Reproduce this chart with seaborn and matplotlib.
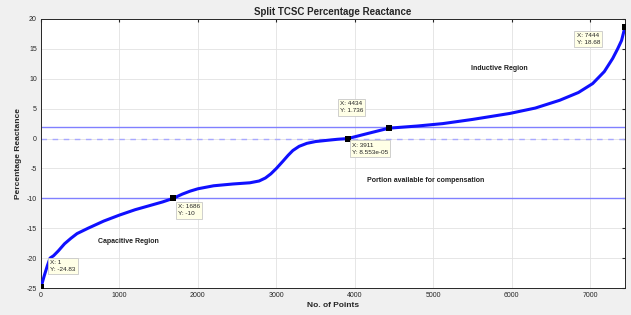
import matplotlib
matplotlib.use("Agg")
import matplotlib.pyplot as plt
import seaborn as sns
import pandas as pd

# ---- data ----
x_points = [1, 40, 80, 115, 160, 220, 300, 380, 459, 600, 800, 1000, 1200,
            1389, 1550, 1686, 1800, 1900, 2000, 2200, 2446, 2662, 2780, 2860,
            2930, 3000, 3083, 3150, 3210, 3290, 3389, 3500, 3643, 3780, 3911,
            4150, 4434, 4800, 5121, 5500, 5975, 6300, 6611, 6850, 7032, 7180,
            7287, 7350, 7400, 7444]
y_points = [-24.83, -23.0, -21.3, -20.0, -19.6, -18.8, -17.6, -16.7, -15.9,
            -15.0, -13.8, -12.8, -11.9, -11.2, -10.6, -10.0, -9.3, -8.8, -8.4,
            -7.9, -7.6, -7.4, -7.1, -6.6, -5.9, -5.0, -3.8, -2.8, -2.0, -1.3,
            -0.8, -0.5, -0.3, -0.12, 0.0000855, 0.8, 1.736, 2.1, 2.5, 3.2,
            4.2, 5.1, 6.4, 7.7, 9.2, 11.2, 13.4, 15.0, 16.4, 18.68]

tip_x = [1, 1686, 3911, 4434, 7444]
tip_y = [-24.83, -10, 8.553e-05, 1.736, 18.68]
tip_text = ["X: 1\nY: -24.83", "X: 1686\nY: -10", "X: 3911\nY: 8.553e-05",
            "X: 4434\nY: 1.736", "X: 7444\nY: 18.68"]
tip_box_x = [115, 1745, 3962, 3809, 6828]
tip_box_y = [-20.3, -11.0, -0.67, 6.2, 17.7]

limit_lines = [2, -10]
zero_line = 0

region_labels = ["Inductive Region", "Portion available for compensation", "Capacitive Region"]
region_x = [5847, 4904, 1108]
region_y = [11.8, -7.0, -17.2]

x_ticks = [0, 1000, 2000, 3000, 4000, 5000, 6000, 7000]
y_ticks = [-25, -20, -15, -10, -5, 0, 5, 10, 15, 20]

title = "Split TCSC Percentage Reactance"
xlabel = "No. of Points"
ylabel = "Percentage Reactance"

# ---- plot ----
sns.set_style("whitegrid")
plt.rcParams['font.family'] = ['Liberation Sans', 'DejaVu Sans']

fig = plt.figure(figsize=(6.31, 3.15), dpi=100)
fig.patch.set_facecolor('#f0f0f0')
ax = fig.add_axes([0.065, 0.0857, 0.9255, 0.854])
ax.set_facecolor('white')

df = pd.DataFrame({"x": x_points, "y": y_points})
sns.lineplot(data=df, x="x", y="y", ax=ax, color='#1010ff', linewidth=2.2,
             estimator=None, sort=False, zorder=3)

for v in limit_lines:
    ax.axhline(v, color='#8080ff', linewidth=1.0, zorder=2)
ax.axhline(zero_line, color='#a8a8ff', linewidth=1.0, linestyle=(0, (4, 4)), zorder=2)

tips = pd.DataFrame({"x": tip_x, "y": tip_y})
sns.scatterplot(data=tips, x="x", y="y", ax=ax, marker='s', color='black',
                s=22, linewidth=0, zorder=5)

for t, bx, by in zip(tip_text, tip_box_x, tip_box_y):
    ax.text(bx, by, t, fontsize=4.6, ha='left', va='top', zorder=6,
            linespacing=1.5,
            bbox=dict(boxstyle='square,pad=0.35', fc='#ffffe6', ec='#c8c8c8', lw=0.6))

for lab, lx, ly in zip(region_labels, region_x, region_y):
    ax.text(lx, ly, lab, fontsize=5, fontweight='bold', ha='center', va='center',
            color='#202020', zorder=4)

ax.set_xlim(0, 7444)
ax.set_ylim(-25, 20)
ax.set_xticks(x_ticks)
ax.set_yticks(y_ticks)
ax.set_xticklabels([str(v) for v in x_ticks])
ax.set_yticklabels([str(v) for v in y_ticks])
ax.tick_params(axis='both', labelsize=5, length=2.5, direction='in', pad=3,
               top=True, right=True, colors='#262626')
ax.grid(True, color='#e2e2e2', linewidth=0.6)
for s in ax.spines.values():
    s.set_color('#262626')
    s.set_linewidth(0.7)

ax.set_title(title, fontsize=7, fontweight='bold', pad=3)
ax.set_xlabel(xlabel, fontsize=6, fontweight='bold', labelpad=2)
ax.set_ylabel(ylabel, fontsize=6, fontweight='bold', labelpad=3)

fig.savefig("out.png", dpi=100, facecolor=fig.get_facecolor())
